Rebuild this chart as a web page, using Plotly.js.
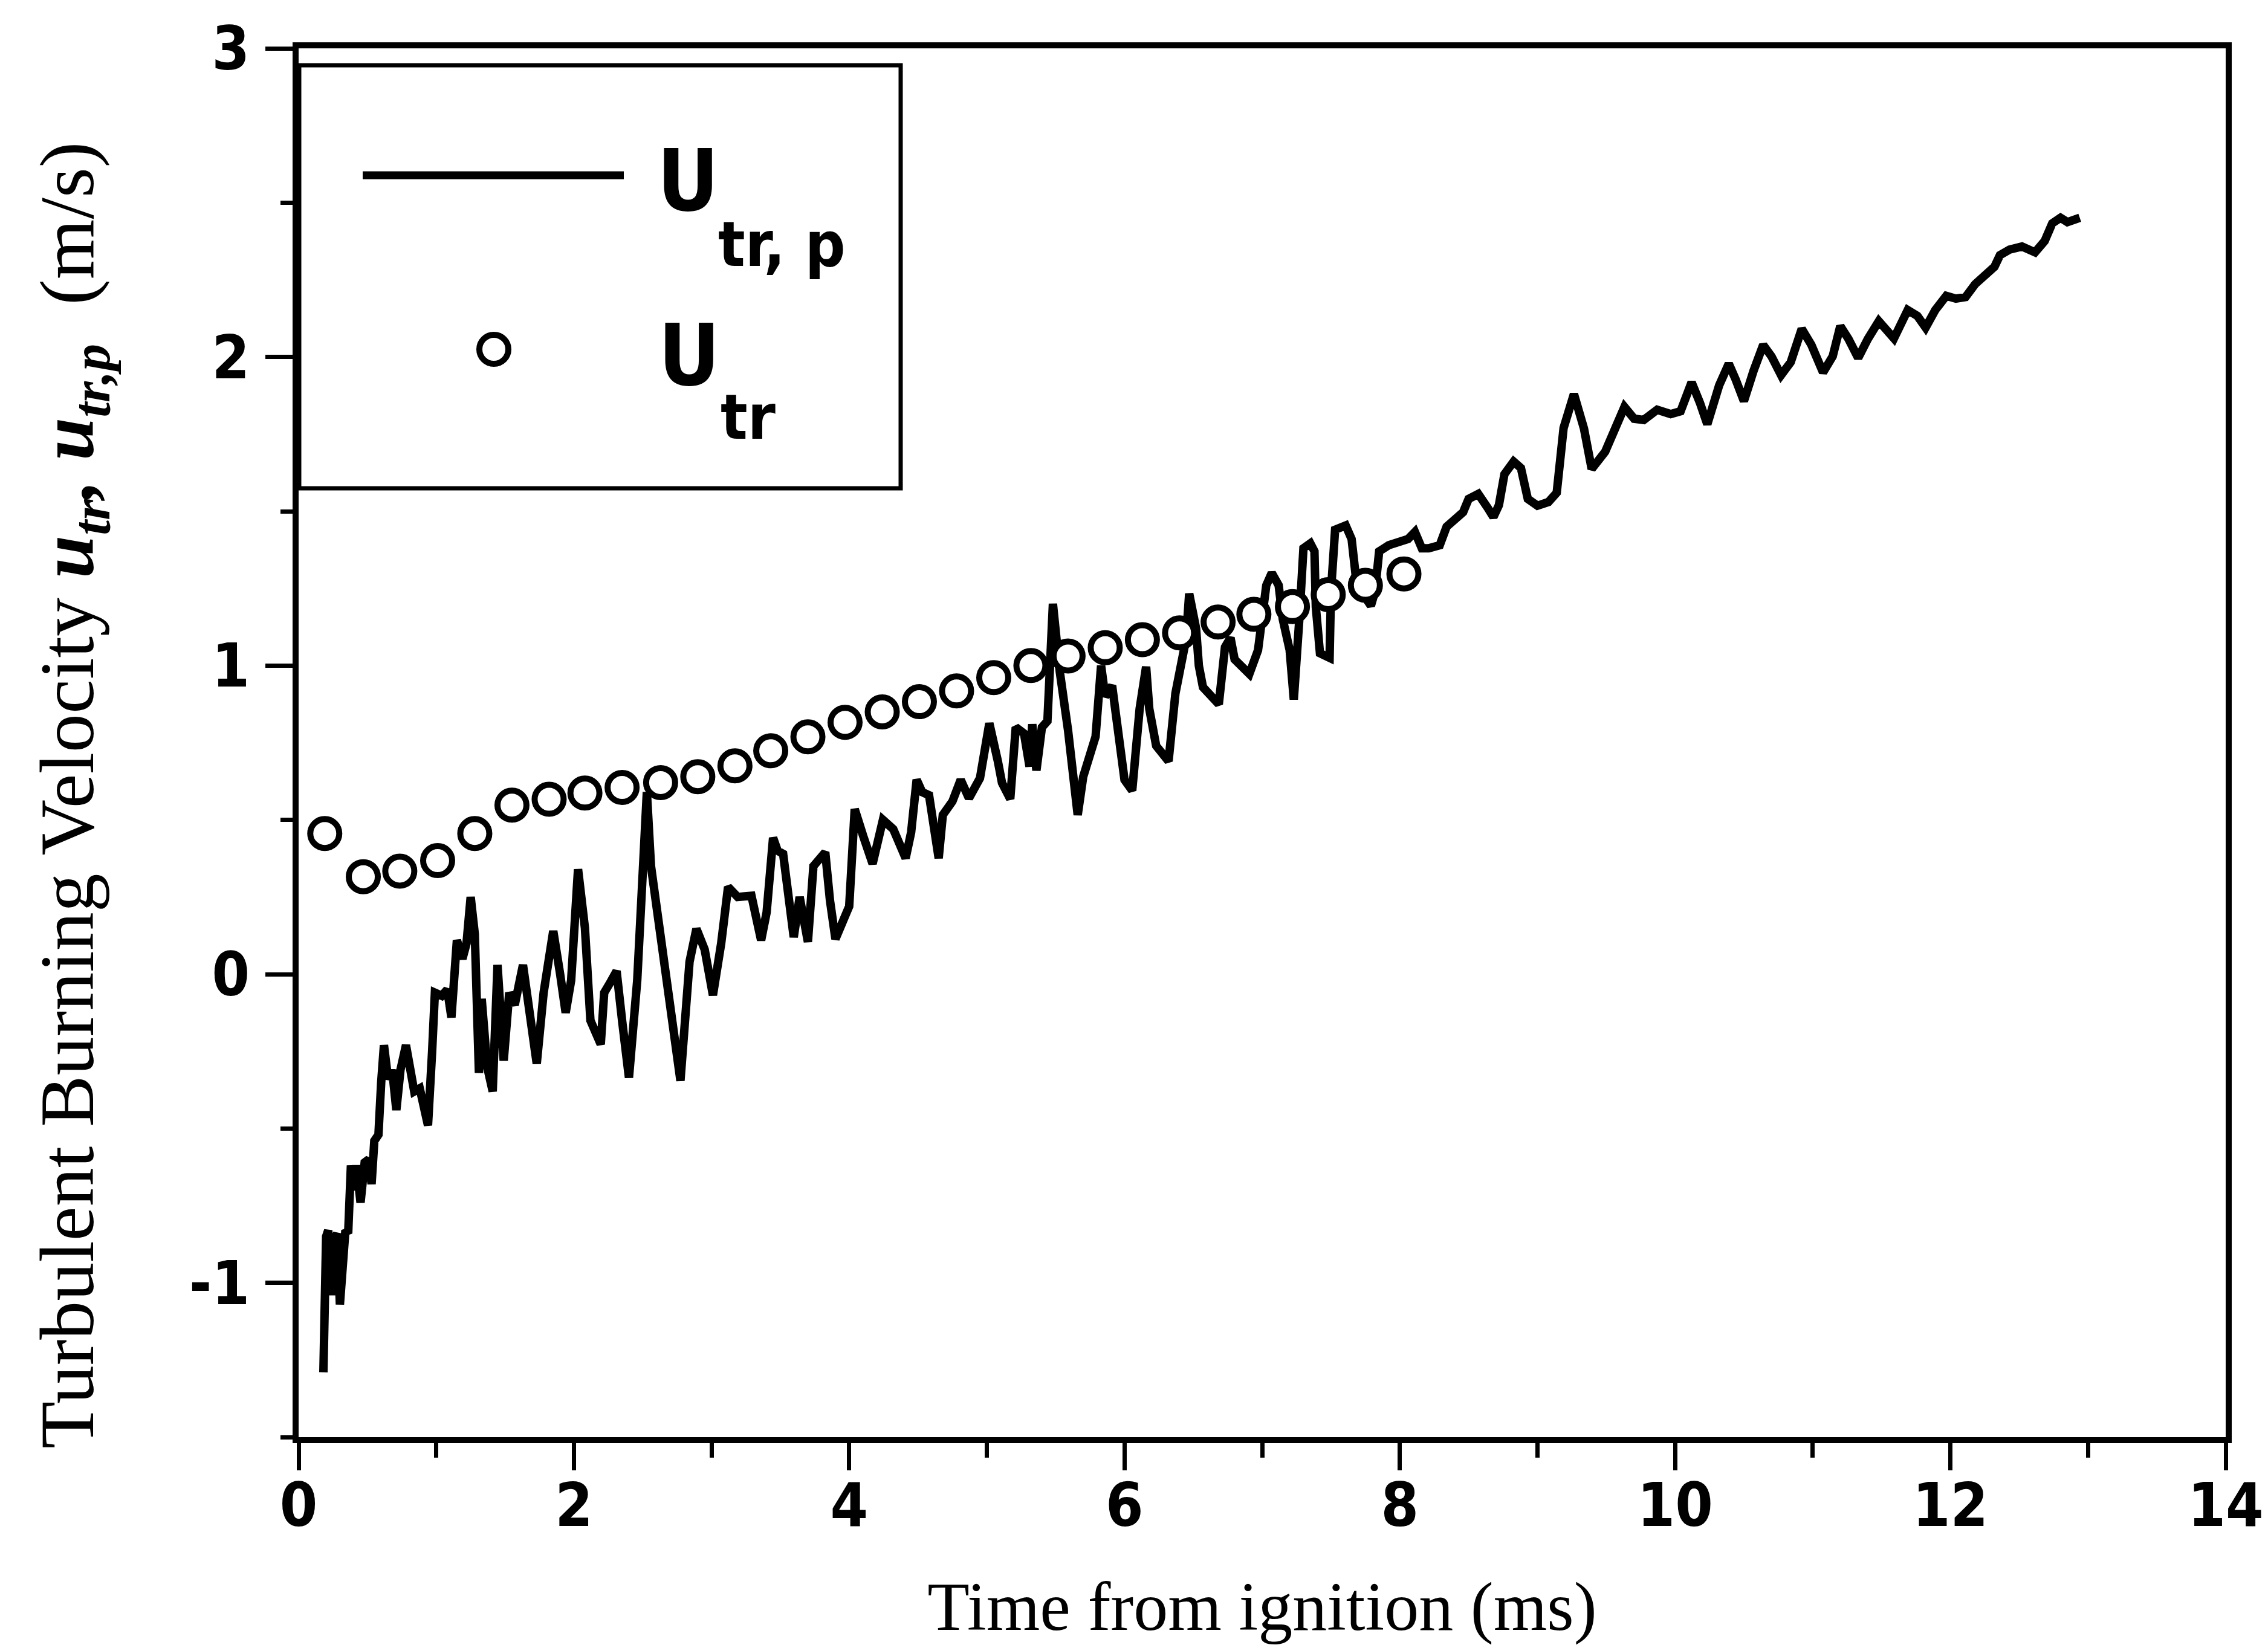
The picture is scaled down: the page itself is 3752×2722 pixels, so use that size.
<!DOCTYPE html>
<html><head><meta charset="utf-8">
<script src="https://cdn.plot.ly/plotly-3.0.1.min.js"></script>
<style>html,body{margin:0;padding:0;background:#fff}#chart{width:3752px;height:2722px}</style>
</head><body><div id="chart"></div>
<script>
// u_tr,p : time (ms) and velocity (m/s)
const timeLine = [0.18,0.185,0.20,0.215,0.24,0.26,0.28,0.30,0.32,0.34,0.36,0.38,0.40,0.42,0.45,0.48,0.51,0.53,0.55,0.58,
0.60,0.62,0.65,0.68,0.71,0.74,0.78,0.81,0.84,0.88,0.94,0.97,0.99,1.04,1.08,1.11,1.15,1.19,1.22,1.25,
1.28,1.31,1.33,1.37,1.41,1.445,1.49,1.53,1.57,1.63,1.68,1.73,1.78,1.85,1.90,1.94,1.98,2.03,2.08,2.12,
2.195,2.22,2.26,2.31,2.35,2.40,2.46,2.53,2.56,2.64,2.70,2.774,2.84,2.89,2.95,3.01,3.07,3.12,3.19,3.25,
3.29,3.36,3.40,3.447,3.48,3.52,3.597,3.64,3.70,3.74,3.826,3.86,3.90,4.00,4.04,4.10,4.17,4.245,4.32,4.41,
4.45,4.49,4.53,4.58,4.65,4.68,4.75,4.81,4.87,4.95,5.018,5.08,5.11,5.17,5.21,5.27,5.31,5.33,5.36,5.40,
5.44,5.48,5.53,5.59,5.62,5.66,5.70,5.79,5.83,5.86,5.91,5.95,6.00,6.056,6.11,6.157,6.18,6.23,6.32,6.37,
6.447,6.47,6.52,6.54,6.57,6.685,6.73,6.77,6.80,6.907,6.97,7.03,7.07,7.12,7.15,7.20,7.23,7.27,7.30,7.35,
7.38,7.39,7.42,7.49,7.50,7.53,7.607,7.65,7.68,7.72,7.79,7.82,7.85,7.92,8.01,8.06,8.11,8.16,8.21,8.29,
8.34,8.41,8.46,8.50,8.57,8.64,8.68,8.72,8.76,8.827,8.88,8.93,9.00,9.08,9.14,9.19,9.265,9.338,9.394,9.492,
9.548,9.632,9.702,9.772,9.870,9.968,10.04,10.12,10.18,10.234,10.32,10.39,10.44,10.50,10.57,10.64,10.70,10.77,10.84,10.92,
10.99,11.075,11.145,11.20,11.26,11.33,11.40,11.48,11.59,11.69,11.76,11.82,11.89,11.97,12.04,12.11,12.18,12.265,12.32,12.36,
12.43,12.52,12.615,12.685,12.74,12.80,12.85,12.94];
const uTrP = [-1.29,-0.95,-0.85,-0.83,-1.04,-0.86,-0.84,-1.07,-0.92,-0.83,-0.84,-0.62,-0.70,-0.62,-0.74,-0.61,-0.60,-0.68,-0.54,-0.52,
-0.35,-0.23,-0.34,-0.31,-0.44,-0.31,-0.23,-0.30,-0.38,-0.37,-0.49,-0.25,-0.06,-0.07,-0.05,-0.14,0.11,0.05,0.10,0.25,
0.13,-0.32,-0.08,-0.30,-0.38,0.03,-0.28,-0.06,-0.10,0.03,-0.13,-0.29,-0.06,0.14,0.0,-0.125,-0.02,0.34,0.15,-0.15,
-0.227,-0.06,-0.03,0.01,-0.15,-0.335,-0.02,0.59,0.35,0.10,-0.12,-0.345,0.04,0.147,0.08,-0.068,0.10,0.283,0.25,0.25,
0.254,0.11,0.20,0.442,0.40,0.39,0.12,0.25,0.105,0.35,0.395,0.24,0.114,0.22,0.535,0.45,0.358,0.50,0.47,0.376,
0.46,0.63,0.59,0.58,0.376,0.516,0.56,0.63,0.57,0.635,0.813,0.69,0.62,0.568,0.80,0.78,0.673,0.81,0.66,0.80,
0.82,1.20,0.98,0.79,0.65,0.516,0.64,0.77,1.0,0.90,0.935,0.79,0.63,0.595,0.86,0.996,0.86,0.74,0.69,0.91,
1.085,1.233,1.12,1.0,0.93,0.875,1.06,1.09,1.02,0.973,1.05,1.26,1.30,1.26,1.15,1.05,0.89,1.15,1.38,1.396,
1.37,1.19,1.04,1.025,1.24,1.44,1.454,1.41,1.29,1.24,1.194,1.24,1.37,1.39,1.40,1.41,1.433,1.38,1.38,1.39,
1.45,1.48,1.497,1.54,1.556,1.51,1.481,1.52,1.62,1.661,1.64,1.54,1.518,1.53,1.56,1.77,1.88,1.768,1.637,1.693,
1.758,1.838,1.800,1.796,1.829,1.815,1.824,1.918,1.852,1.782,1.908,1.978,1.927,1.857,1.955,2.039,2.002,1.941,1.983,2.091,
2.039,1.950,2.002,2.100,2.058,1.997,2.058,2.116,2.060,2.152,2.133,2.095,2.152,2.198,2.189,2.194,2.236,2.273,2.292,2.330,
2.348,2.358,2.339,2.376,2.433,2.451,2.437,2.451];

// u_tr : time (ms) and velocity (m/s)
const timeCircles = [0.19,0.47,0.735,1.01,1.28,1.55,1.82,2.08,2.35,2.63,2.90,3.17,3.43,3.70,3.97,4.24,4.51,4.78,5.05,5.32,5.59,5.86,6.13,6.40,6.68,6.94,7.22,7.48,7.75,8.03];
const uTr = [0.456,0.316,0.334,0.368,0.456,0.548,0.567,0.587,0.605,0.621,0.640,0.675,0.724,0.769,0.816,0.850,0.883,0.918,0.961,1.000,1.031,1.058,1.084,1.106,1.141,1.166,1.191,1.230,1.260,1.297];

const xTickVals = [0,2,4,6,8,10,12,14];
const xTickText = ['0','2','4','6','8','10','12','14'];
const yTickVals = [-1,0,1,2,3];
const yTickText = ['-1','0','1','2','3'];

const W = 3752, H = 2722;
const M = {l:494, r:70, t:80, b:344};
const PW = W - M.l - M.r, PH = H - M.t - M.b;
const px = x => (x - M.l) / PW;
const py = y => (H - M.b - y) / PH;

const tickFont = {family:'Liberation Sans Narrow, DejaVu Sans Condensed, Arial Narrow, sans-serif', size:100, weight:'bold', color:'#000'};
const serif = 'Liberation Serif, Times New Roman, serif';
const legFont = 'Liberation Sans Narrow, DejaVu Sans Condensed, Arial Narrow, sans-serif';

const traces = [
  {x: timeLine, y: uTrP, type:'scatter', mode:'lines', line:{color:'#000', width:14}, showlegend:false},
  {x: timeCircles, y: uTr, type:'scatter', mode:'markers', marker:{symbol:'circle', size:48, color:'#fff', line:{color:'#000', width:10}}, showlegend:false}
];

const axisCommon = {
  showgrid:false, zeroline:false, showline:true, linecolor:'#000', linewidth:10, mirror:true,
  ticks:'outside', tickcolor:'#000', tickwidth:7, ticklen:45, tickmode:'array', tickfont: tickFont
};

const layout = {
  width: W, height: H, margin: M, paper_bgcolor:'#fff', plot_bgcolor:'#fff', showlegend:false,
  xaxis: Object.assign({}, axisCommon, {
    range:[0,14], tickvals: xTickVals, ticktext: xTickText, ticklabelstandoff: -28,
    minor:{tickmode:'linear', tick0:0, dtick:1, ticks:'outside', ticklen:24, tickwidth:7, tickcolor:'#000'},
    title:{text:'Time from ignition (ms)', font:{family:serif, size:114, color:'#000'}, standoff:95}
  }),
  yaxis: Object.assign({}, axisCommon, {
    range:[-1.5,3], tickvals: yTickVals, ticktext: yTickText, ticklabelstandoff: 6,
    minor:{tickmode:'linear', tick0:0, dtick:0.5, ticks:'outside', ticklen:20, tickwidth:7, tickcolor:'#000'}
  }),
  shapes: [
    {type:'rect', xref:'paper', yref:'paper', x0:px(495), x1:px(1490), y0:py(808), y1:py(108), line:{color:'#000', width:7}, fillcolor:'rgba(0,0,0,0)'},
    {type:'line', xref:'paper', yref:'paper', x0:px(600), x1:px(1032), y0:py(290), y1:py(290), line:{color:'#000', width:13}},
    {type:'circle', xref:'paper', yref:'paper', x0:px(817-24), x1:px(817+24), y0:py(578+24), y1:py(578-24), line:{color:'#000', width:10}, fillcolor:'#fff'}
  ],
  annotations: [
    {xref:'paper', yref:'paper', x:px(120), y:py(1316), xanchor:'center', yanchor:'middle', textangle:-90, showarrow:false,
     text:'Turbulent Burning Velocity <b><i>u</i></b><sub><b><i>tr</i></b></sub><b><i>,</i></b> <b><i>u</i></b><sub><b><i>tr,p</i></b></sub>  (m/s)',
     font:{family:serif, size:128, color:'#000'}},
    {xref:'paper', yref:'paper', x:px(1085), y:py(300), xanchor:'left', yanchor:'middle', showarrow:false, text:'U', font:{family:legFont, size:140, weight:'bold', color:'#000'}},
    {xref:'paper', yref:'paper', x:px(1186), y:py(404), xanchor:'left', yanchor:'middle', showarrow:false, text:'tr, p', font:{family:legFont, size:104, weight:'bold', color:'#000'}},
    {xref:'paper', yref:'paper', x:px(1087), y:py(588), xanchor:'left', yanchor:'middle', showarrow:false, text:'U', font:{family:legFont, size:140, weight:'bold', color:'#000'}},
    {xref:'paper', yref:'paper', x:px(1190), y:py(690), xanchor:'left', yanchor:'middle', showarrow:false, text:'tr', font:{family:legFont, size:104, weight:'bold', color:'#000'}}
  ]
};

Plotly.newPlot('chart', traces, layout, {staticPlot:true, displayModeBar:false});
</script>
</body></html>
